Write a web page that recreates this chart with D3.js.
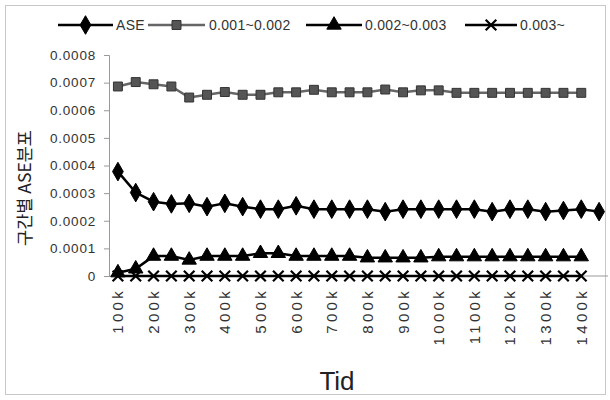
<!DOCTYPE html>
<html>
<head>
<meta charset="utf-8">
<script src="https://cdn.jsdelivr.net/npm/d3@7"></script>
<style>
  html, body { margin: 0; padding: 0; background: #fff; }
  svg { display: block; }
  text { font-family: "Liberation Sans", Arial, sans-serif; }
</style>
</head>
<body>
<svg id="chart" width="610" height="400"></svg>
<script>
// ---- data ----
const categories = ["100k","150k","200k","250k","300k","350k","400k","450k","500k","550k",
  "600k","650k","700k","750k","800k","850k","900k","950k","1000k","1050k",
  "1100k","1150k","1200k","1250k","1300k","1350k","1400k","1450k"];
const tickLabels = ["100k","200k","300k","400k","500k","600k","700k","800k","900k","1000k",
  "1100k","1200k","1300k","1400k"];
const yTicks = [0, 0.0001, 0.0002, 0.0003, 0.0004, 0.0005, 0.0006, 0.0007, 0.0008];
const yTickLabels = ["0","0.0001","0.0002","0.0003","0.0004","0.0005","0.0006","0.0007","0.0008"];

const seriesNames = ["ASE", "0.001~0.002", "0.002~0.003", "0.003~"];
const aseValues = [0.000378,0.000302,0.000269,0.000261,0.000263,0.000251,0.000263,0.000251,0.000242,0.000242,
  0.000254,0.000242,0.000242,0.000242,0.000242,0.000233,0.000242,0.000242,0.000242,0.000242,
  0.000242,0.000233,0.000242,0.000242,0.000233,0.000237,0.000242,0.000233];
const r1Values = [0.000686,0.000702,0.000694,0.000686,0.000646,0.000656,0.000666,0.000656,0.000656,0.000665,
  0.000665,0.000674,0.000665,0.000665,0.000665,0.000675,0.000665,0.000672,0.000672,0.000663,
  0.000663,0.000663,0.000663,0.000663,0.000663,0.000663,0.000663];
const r2Values = [0.000012,0.000026,0.000072,0.000072,0.000058,0.000072,0.000072,0.000072,0.000082,0.000082,
  0.000072,0.000072,0.000072,0.000072,0.000066,0.000066,0.000066,0.000066,0.00007,0.00007,
  0.00007,0.00007,0.00007,0.00007,0.00007,0.00007,0.00007];
const r3Values = [0,0,0,0,0,0,0,0,0,0,0,0,0,0,0,0,0,0,0,0,0,0,0,0,0,0,0];

// ---- layout ----
const svg = d3.select("#chart");
const plotLeft = 109, plotRight = 608, plotTop = 55, plotBottom = 276;

svg.append("rect").attr("x", 5.5).attr("y", 5.5).attr("width", 600).attr("height", 389)
  .attr("fill", "#fff").attr("stroke", "#c8c8c8").attr("stroke-width", 1);

const x = d3.scalePoint().domain(categories).range([plotLeft, plotRight]).padding(0.5);
const y = d3.scaleLinear().domain([0, 0.0008]).range([plotBottom, plotTop]);

// y axis
const yAxis = d3.axisLeft(y).tickValues(yTicks).tickSize(5).tickPadding(8)
  .tickFormat((d, i) => yTickLabels[i]);
const gy = svg.append("g").attr("transform", `translate(${plotLeft},0)`).call(yAxis);
gy.select(".domain").attr("stroke", "#999");
gy.selectAll(".tick line").attr("stroke", "#999");
gy.selectAll(".tick text").attr("fill", "#333").style("font-size", "13.5px")
  .style("letter-spacing", "0.8px");

// x axis line
svg.append("line").attr("x1", plotLeft).attr("x2", plotRight).attr("y1", y(0)).attr("y2", y(0))
  .attr("stroke", "#999").attr("stroke-width", 1);

// x tick labels (rotated)
svg.append("g").selectAll("text").data(tickLabels).join("text")
  .attr("transform", d => `translate(${x(d) + 5.5},${plotBottom + 12}) rotate(-90)`)
  .attr("text-anchor", "end")
  .attr("fill", "#333")
  .style("font-size", "15px")
  .style("letter-spacing", "3.3px")
  .text(d => d);

// titles
svg.append("text").attr("x", 337).attr("y", 390).attr("text-anchor", "middle")
  .attr("fill", "#222").style("font-size", "26px").text("Tid");
svg.append("text").attr("transform", "translate(31,188) rotate(-90)")
  .attr("text-anchor", "middle").attr("fill", "#222")
  .style("font-family", "'Noto Sans CJK KR', sans-serif").style("font-size", "17.5px")
  .text("구간별 ASE분포");

// series
const series = [
  { name: seriesNames[0], values: aseValues, color: "#000", fill: "#000", sym: d3.symbolDiamond, size: 100, w: 2.5 },
  { name: seriesNames[1], values: r1Values, color: "#666", fill: "#555", sym: d3.symbolSquare, size: 80, w: 2.5 },
  { name: seriesNames[2], values: r2Values, color: "#000", fill: "#000", sym: d3.symbolTriangle, size: 90, w: 2.5 },
  { name: seriesNames[3], values: r3Values, color: "#000", fill: "none", sym: d3.symbolX, size: 75, w: 2.5 }
];

const line = d3.line().x((d, i) => x(categories[i])).y(d => y(d));

function drawMarker(g, s, cx, cy) {
  const p = g.append("path").attr("d", d3.symbol().type(s.sym).size(s.size)())
    .attr("transform", `translate(${cx},${cy})`);
  if (s.sym === d3.symbolX) {
    p.attr("fill", "none").attr("stroke", s.color).attr("stroke-width", 2.2);
  } else {
    p.attr("fill", s.fill).attr("stroke", s.sym === d3.symbolSquare ? "#333" : "#000").attr("stroke-width", 1);
  }
}

// draw order: square, X, triangle, ASE
[1, 3, 2, 0].forEach(k => {
  const s = series[k];
  const g = svg.append("g");
  g.append("path").datum(s.values).attr("d", line)
    .attr("fill", "none").attr("stroke", s.color).attr("stroke-width", s.w);
  s.values.forEach((v, i) => drawMarker(g, s, x(categories[i]), y(v)));
});

// legend
const legendItems = [
  { x1: 58, x2: 113, tx: 116 },
  { x1: 148, x2: 205, tx: 209 },
  { x1: 306, x2: 362, tx: 365 },
  { x1: 465, x2: 517, tx: 520 }
];
const ly = 25;
legendItems.forEach((li, k) => {
  const s = series[k];
  const g = svg.append("g");
  g.append("line").attr("x1", li.x1).attr("x2", li.x2).attr("y1", ly).attr("y2", ly)
    .attr("stroke", s.color).attr("stroke-width", s.w);
  drawMarker(g, s, (li.x1 + li.x2) / 2, ly);
  g.append("text").attr("x", li.tx).attr("y", ly + 5).attr("fill", "#333")
    .style("font-size", "14px").style("letter-spacing", "0.3px").text(s.name);
});
</script>
</body>
</html>
